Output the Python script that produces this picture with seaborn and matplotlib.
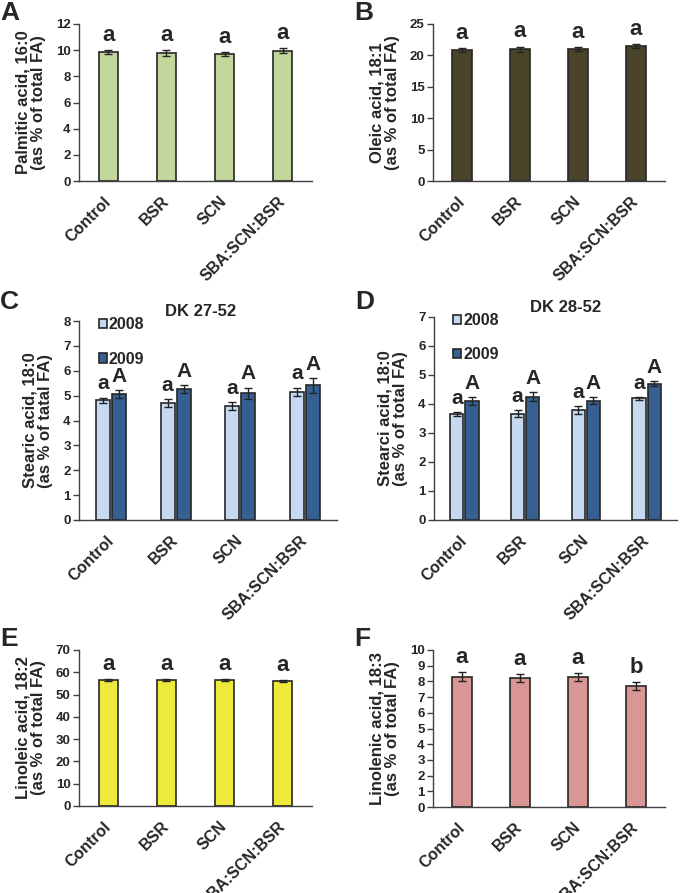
import numpy as np
import pandas as pd
import seaborn as sns
import matplotlib.pyplot as plt

sns.set_style("white")
plt.rcParams['font.family'] = ['Liberation Sans', 'DejaVu Sans']
plt.rcParams['font.weight'] = 'bold'

# data
categories = ['Control', 'BSR', 'SCN', 'SBA:SCN:BSR']

palmitic = [9.85, 9.80, 9.72, 9.95]
palmitic_err = [0.18, 0.22, 0.15, 0.18]
palmitic_letters = ['a', 'a', 'a', 'a']

oleic = [20.8, 21.0, 21.0, 21.5]
oleic_err = [0.3, 0.4, 0.3, 0.3]
oleic_letters = ['a', 'a', 'a', 'a']

years = ['2008', '2009']
dk27_2008 = [4.82, 4.71, 4.58, 5.15]
dk27_2008_err = [0.10, 0.15, 0.15, 0.17]
dk27_2009 = [5.06, 5.27, 5.10, 5.42]
dk27_2009_err = [0.15, 0.15, 0.22, 0.30]
dk28_2008 = [3.66, 3.66, 3.79, 4.19]
dk28_2008_err = [0.07, 0.12, 0.13, 0.05]
dk28_2009 = [4.11, 4.25, 4.11, 4.70]
dk28_2009_err = [0.13, 0.15, 0.12, 0.08]
letters_2008 = ['a', 'a', 'a', 'a']
letters_2009 = ['A', 'A', 'A', 'A']

linoleic = [56.6, 56.6, 56.5, 56.0]
linoleic_err = [0.5, 0.5, 0.5, 0.5]
linoleic_letters = ['a', 'a', 'a', 'a']

linolenic = [8.3, 8.2, 8.3, 7.7]
linolenic_err = [0.30, 0.25, 0.25, 0.25]
linolenic_letters = ['a', 'a', 'a', 'b']

W, H = 680, 893
fig = plt.figure(figsize=(W / 100, H / 100), dpi=100)


def px_axes(x0, y0, x1, y1):
    return fig.add_axes([x0 / W, 1 - y1 / H, (x1 - x0) / W, (y1 - y0) / H])


def style_axes(ax, ymax, step, ylabel):
    ax.set_xlim(-0.5, 3.5)
    ax.set_ylim(0, ymax)
    ax.set_yticks(np.arange(0, ymax + step / 2, step))
    ax.set_xticks(range(4))
    ax.set_xticks(np.arange(-0.5, 4, 1), minor=True)
    ax.set_xticklabels(categories, rotation=45, ha='right', va='center',
                       rotation_mode='anchor', fontsize=11.5, fontweight='bold')
    ax.tick_params(axis='x', which='major', length=0, pad=13)
    ax.tick_params(axis='x', which='minor', length=4, width=1, color='#404040', direction='out')
    ax.tick_params(axis='y', length=4, width=1, color='#404040', direction='out',
                   labelsize=9.5, pad=2, left=True)
    for lab in ax.get_yticklabels():
        lab.set_fontweight('bold')
    sns.despine(ax=ax)
    for s in ['left', 'bottom']:
        ax.spines[s].set_color('#404040')
        ax.spines[s].set_linewidth(1)
    ax.set_xlabel('')
    ax.set_ylabel(ylabel, fontsize=12, fontweight='bold', linespacing=1.05, labelpad=7)


def add_err_letters(ax, container, errs, letters, size=16):
    xs = [p.get_x() + p.get_width() / 2 for p in container]
    ys = [p.get_height() for p in container]
    ax.errorbar(xs, ys, yerr=errs, fmt='none', ecolor='#222222', elinewidth=1,
                capsize=3, capthick=1)
    for x, y, e, t in zip(xs, ys, errs, letters):
        ax.annotate(t, (x, y + e), xytext=(0, 3), textcoords='offset points',
                    ha='center', va='bottom', fontsize=size, fontweight='bold')


def single_panel(box, vals, errs, letters, color, ymax, step, ylabel, tag):
    ax = px_axes(*box)
    df = pd.DataFrame({'cat': categories, 'val': vals})
    sns.barplot(data=df, x='cat', y='val', order=categories, color=color,
                width=0.33, errorbar=None, edgecolor='#262626', linewidth=1.2,
                saturation=1, ax=ax)
    add_err_letters(ax, ax.containers[0], errs, letters)
    style_axes(ax, ymax, step, ylabel)
    fig.text((box[0] - 79) / W, 1 - (box[1] - 11) / H, tag, fontsize=19,
             fontweight='bold', va='center', ha='left')
    return ax


def grouped_panel(box, v08, e08, v09, e09, ymax, ylabel, title, title_x, tag):
    ax = px_axes(*box)
    df = pd.DataFrame({'cat': categories * 2,
                       'year': [years[0]] * 4 + [years[1]] * 4,
                       'val': v08 + v09})
    sns.barplot(data=df, x='cat', y='val', hue='year', order=categories,
                hue_order=years, palette=['#c6d9f1', '#376092'], width=0.5,
                gap=0.12, errorbar=None, edgecolor='#262626', linewidth=1.2,
                saturation=1, ax=ax)
    add_err_letters(ax, ax.containers[0], e08, letters_2008, size=15)
    add_err_letters(ax, ax.containers[1], e09, letters_2009, size=15)
    style_axes(ax, ymax, 1, ylabel)
    handles, labels = ax.get_legend_handles_labels()
    ax.legend(handles, labels, loc='upper left', bbox_to_anchor=(0.02, 1.09),
              frameon=False, handlelength=0.5, handleheight=0.5, handletextpad=0.15,
              labelspacing=1.2, prop={'weight': 'bold', 'size': 11.5})
    ax.text(title_x, 1.01, title, transform=ax.transAxes, ha='center',
            va='bottom', fontsize=12, fontweight='bold')
    fig.text((box[0] - 79) / W, 1 - 302 / H, tag, fontsize=19,
             fontweight='bold', va='center', ha='left')
    return ax


single_panel((79, 24, 312, 181), palmitic, palmitic_err, palmitic_letters,
             '#c3d69b', 12, 2, 'Palmitic acid, 16:0\n(as % of total FA)', 'A')
single_panel((433, 24, 665, 181), oleic, oleic_err, oleic_letters,
             '#4a452a', 25, 5, 'Oleic acid, 18:1\n(as % of total FA)', 'B')

grouped_panel((79, 321, 337, 520), dk27_2008, dk27_2008_err, dk27_2009, dk27_2009_err,
              8, 'Stearic acid, 18:0\n(as % of tatal FA)', 'DK 27-52', 0.47, 'C')
grouped_panel((434, 317, 677, 520), dk28_2008, dk28_2008_err, dk28_2009, dk28_2009_err,
              7, 'Stearci acid, 18:0\n(as % of total FA)', 'DK 28-52', 0.54, 'D')

single_panel((79, 650, 312, 806), linoleic, linoleic_err, linoleic_letters,
             '#eeea3c', 70, 10, 'Linoleic acid, 18:2\n(as % of total FA)', 'E')
single_panel((433, 650, 665, 807), linolenic, linolenic_err, linolenic_letters,
             '#d99694', 10, 1, 'Linolenic acid, 18:3\n(as % of total FA)', 'F')

fig.savefig('out.png', dpi=100)
